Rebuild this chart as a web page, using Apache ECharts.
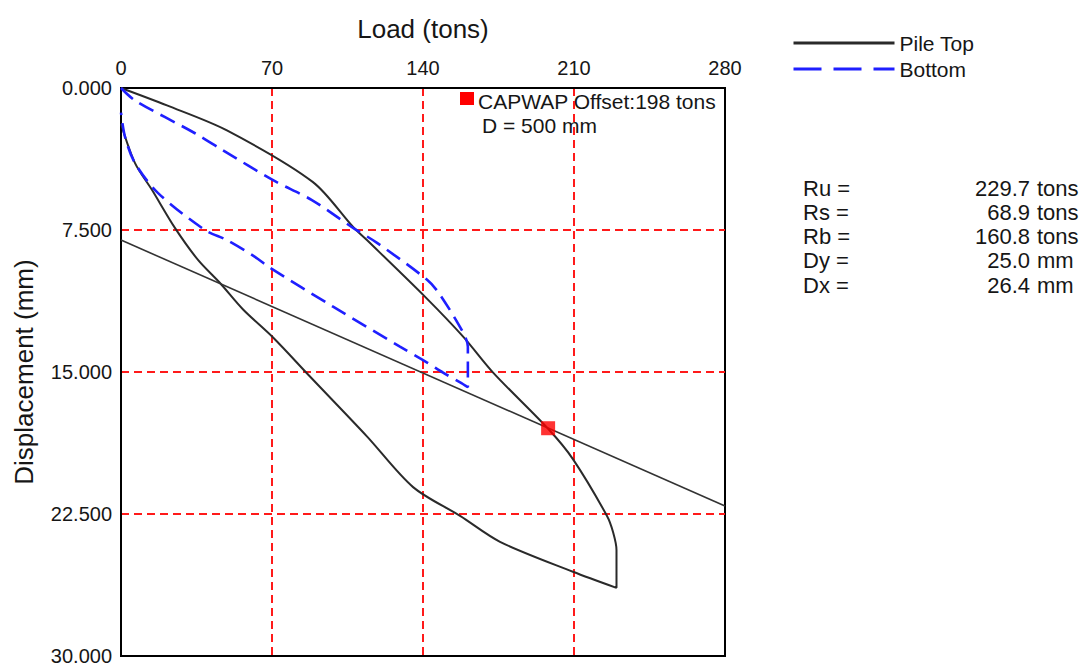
<!DOCTYPE html>
<html>
<head>
<meta charset="utf-8">
<script src="https://cdn.jsdelivr.net/npm/echarts@6/dist/echarts.min.js"></script>
<style>
  html, body { margin: 0; padding: 0; background: #ffffff; }
  #chart { width: 1085px; height: 666px; }
</style>
</head>
<body>
<div id="chart"></div>
<script>
// Simulated static load test (CAPWAP): load in tons vs displacement in mm.

// Pile top: loading branch then unloading branch, [load, displacement]
const pileTop = [
  [0, 0], [21.3, 0.92], [49.1, 2.24], [89, 4.97], [107.6, 7.34],
  [114, 8.03], [141, 11.03], [158.6, 13.13], [172.5, 15.03], [198, 18.0],
  [209.5, 19.6], [225.3, 22.6], [228.1, 23.45], [229.7, 24.4], [229.7, 26.4],
  [209.5, 25.55], [175.7, 23.97], [157.2, 22.6], [135.4, 21.08],
  [114, 18.4], [87.6, 15.24], [70.5, 13.18], [56.6, 11.7],
  [45.9, 10.3], [35.7, 9.08], [25, 7.39], [14.4, 5.39], [6.5, 3.97], [0, 1.9]
];

// Pile bottom (toe): loading branch then unloading branch
const pileBottom = [
  [0, 0], [6.5, 0.66], [34.3, 2.39], [47.3, 3.29], [70.5, 4.87], [88.5, 5.92],
  [107.6, 7.39], [118.7, 8.18], [141.9, 10.13], [147.9, 10.92], [158.6, 12.92],
  [160.8, 13.66], [160.8, 15.8],
  [157.2, 15.55], [149.3, 15.03], [141.9, 14.5], [129.3, 13.66], [98.3, 11.55],
  [69.1, 9.5], [62.1, 8.92], [49.1, 8.03], [38.9, 7.5], [17.2, 5.55],
  [6.5, 3.97], [1.9, 2.6], [0, 1.3]
];

// Offset line, start and end
const offsetLine = [[0, 8.03], [280, 22.08]];

// Offset capacity point
const offsetLoad = 198;
const offsetDisp = 17.97;

// Axis ticks
const loadTicks = [0, 70, 140, 210, 280];
const dispTicks = [0, 7.5, 15, 22.5, 30];

// Result summary
const resultNames = ['Ru', 'Rs', 'Rb', 'Dy', 'Dx'];
const resultValues = ['229.7', '68.9', '160.8', '25.0', '26.4'];
const resultUnits = ['tons', 'tons', 'tons', 'mm', 'mm'];

const FONT = '"Liberation Sans", Arial, sans-serif';
const TXT = '#161616';
const TOP_COLOR = '#2a2a2a';
const BOTTOM_COLOR = '#1f1fff';

const chart = echarts.init(document.getElementById('chart'), null, { renderer: 'svg' });

const graphic = [
  {
    type: 'rect', left: 460, top: 92,
    shape: { width: 14, height: 13 },
    style: { fill: '#ff0000' }
  },
  {
    type: 'text', left: 478, top: 91,
    style: { text: 'CAPWAP Offset:' + offsetLoad + ' tons', font: '21px ' + FONT, fill: TXT }
  },
  {
    type: 'text', left: 482, top: 115,
    style: { text: 'D = 500 mm', font: '21px ' + FONT, fill: TXT }
  }
];

resultNames.forEach(function (n, i) {
  const y = 188 + i * 24.3;
  graphic.push({
    type: 'text', x: 803, y: y,
    style: { text: n + ' =', font: '22px ' + FONT, fill: TXT, verticalAlign: 'middle', align: 'left' }
  });
  graphic.push({
    type: 'text', x: 1030, y: y,
    style: { text: resultValues[i], font: '22px ' + FONT, fill: TXT, verticalAlign: 'middle', align: 'right' }
  });
  graphic.push({
    type: 'text', x: 1037, y: y,
    style: { text: resultUnits[i], font: '22px ' + FONT, fill: TXT, verticalAlign: 'middle', align: 'left' }
  });
});

const gridLine = { color: '#ff1a1a', width: 2, type: [8, 5] };

chart.setOption({
  animation: false,
  backgroundColor: '#ffffff',
  textStyle: { fontFamily: FONT },
  grid: {
    left: 121, top: 88, right: 360, bottom: 9,
    show: true, borderColor: '#000', borderWidth: 2, backgroundColor: 'transparent'
  },
  legend: {
    orient: 'vertical', left: 787, top: 27,
    itemWidth: 101, itemHeight: 14, itemGap: 4,
    textStyle: { fontSize: 21, color: TXT, lineHeight: 22, fontFamily: FONT },
    data: [
      { name: 'Pile Top', itemStyle: { opacity: 0 }, lineStyle: { width: 3, color: TOP_COLOR } },
      { name: 'Bottom', itemStyle: { opacity: 0 }, lineStyle: { width: 3, color: BOTTOM_COLOR, type: [28, 12] } }
    ]
  },
  xAxis: {
    type: 'value', position: 'top',
    min: loadTicks[0], max: loadTicks[loadTicks.length - 1], interval: loadTicks[1] - loadTicks[0],
    name: 'Load (tons)', nameLocation: 'middle', nameGap: 46,
    nameTextStyle: { fontSize: 26, color: TXT, fontFamily: FONT },
    axisLine: { show: true, lineStyle: { color: '#000', width: 2 } },
    axisTick: { show: false },
    axisLabel: { fontSize: 20, color: TXT, margin: 10, fontFamily: FONT },
    splitLine: { show: true, showMinLine: false, showMaxLine: false, lineStyle: gridLine }
  },
  yAxis: {
    type: 'value', inverse: true,
    min: dispTicks[0], max: dispTicks[dispTicks.length - 1], interval: dispTicks[1] - dispTicks[0],
    name: 'Displacement (mm)', nameLocation: 'middle', nameGap: 84,
    nameTextStyle: { fontSize: 26, color: TXT, fontFamily: FONT },
    axisLine: { show: true, lineStyle: { color: '#000', width: 2 } },
    axisTick: { show: false },
    axisLabel: {
      fontSize: 20, color: TXT, margin: 9, fontFamily: FONT,
      formatter: function (v) { return v.toFixed(3); }
    },
    splitLine: { show: true, showMinLine: false, showMaxLine: false, lineStyle: gridLine }
  },
  graphic: graphic,
  series: [
    {
      name: 'Pile Top', type: 'line', data: pileTop,
      symbol: 'none', smooth: 0.3, color: TOP_COLOR,
      lineStyle: { color: TOP_COLOR, width: 2 }, z: 3
    },
    {
      name: 'Bottom', type: 'line', data: pileBottom,
      symbol: 'none', smooth: 0.3, color: BOTTOM_COLOR,
      lineStyle: { color: BOTTOM_COLOR, width: 2.6, type: [16, 8] }, z: 4
    },
    {
      name: 'Offset', type: 'line', data: offsetLine,
      symbol: 'none',
      lineStyle: { color: '#333', width: 1.6 }, z: 3
    },
    {
      name: 'Offset Load', type: 'scatter', data: [[offsetLoad, offsetDisp]],
      symbol: 'rect', symbolSize: 14,
      itemStyle: { color: '#ff0000' }, z: 5
    }
  ]
});
</script>
</body>
</html>
